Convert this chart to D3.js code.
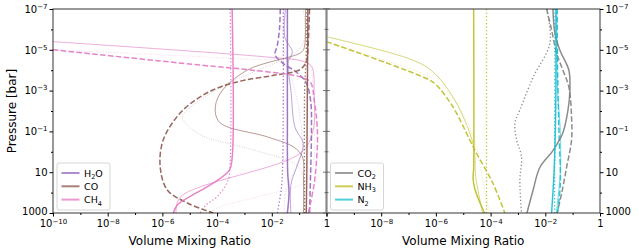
<!DOCTYPE html>
<html>
<head>
<meta charset="utf-8">
<script src="https://cdn.jsdelivr.net/npm/d3@7"></script>
<style>
  body { margin: 0; background: #fff; }
  svg { font-family: "DejaVu Sans", sans-serif; }
</style>
</head>
<body>
<svg id="chart" width="639" height="250"></svg>
<script>
// all profiles are [log10(VMR), log10(P/bar)]
const h2o = {
  solid:  [[-1.43,-7],[-1.43,-2],[-1.42,1],[-1.37,2],[-1.43,3]],
  dashed: [[-1.69,-7],[-1.72,-6],[-1.8,-5.2],[-1.88,-4.75],[-1.6,-4.35],[-1.1,-3.9],[-0.75,-3.4],[-0.58,-2.5],[-0.55,-1],[-0.58,1],[-0.62,3]],
  dotted: [[-1.58,-7],[-1.58,-3],[-1.6,0.5],[-1.65,1.8],[-1.8,3]],
  thin:   [[-1.5,-7],[-1.52,-5.6],[-1.25,-4.9],[-1.4,-4.4],[-1.3,-3],[-1.15,-1.2],[-0.85,-0.4],[-1.05,0.6],[-1.3,1.6],[-1.3,3]],
  faint:  [[-1.55,-7],[-1.55,-5],[-1.35,-4],[-1.0,-2],[-0.9,0],[-1.2,1],[-1.5,2],[-1.55,3]]
};
const co = {
  solid:  [[-0.68,-7],[-0.7,-3],[-0.72,1],[-0.74,3]],
  dashed: [[-0.62,-7],[-0.68,-5],[-0.72,-4.5],[-0.95,-4.05],[-1.87,-3.76],[-2.97,-3.52],[-3.88,-3.18],[-4.62,-2.69],[-5.35,-1.9],[-5.97,-0.58],[-6.08,0.75],[-5.82,1.87],[-5.09,2.51],[-4.14,3]],
  dotted: [[-0.72,-7],[-0.75,-4.5],[-0.8,-3],[-0.8,3]],
  thin:   [[-0.77,-7],[-0.8,-5.2],[-0.9,-4.9],[-2.89,-4.01],[-3.88,-2.88],[-4.07,-2.05],[-3.88,-1.41],[-2.16,-0.73],[-1.21,-0.24],[-0.88,0.25],[-0.84,1.5],[-0.84,3]],
  faint:  [[-0.85,-7],[-0.9,-5.2],[-2.67,-3.91],[-3.52,-3.42],[-5.09,-2.05],[-5.27,-1.71],[-4.73,-0.92],[-2.67,-0.09],[-1.21,0.55],[-0.88,1.04],[-0.84,3]]
};
const ch4 = {
  solid:  [[-3.45,-7],[-3.45,0.3],[-3.55,0.9],[-4.1,1.5],[-5.0,2.2],[-5.45,2.6],[-5.6,3]],
  dashed: [[-10,-5.0],[-4.62,-4.25],[-2.78,-4.01],[-0.95,-3.67],[-0.59,-3.42],[-0.45,-2.54],[-0.33,-0.92],[-0.4,1.0],[-0.48,1.8],[-0.66,3]],
  dotted: [[-3.52,-7],[-3.52,0.5],[-3.6,1.4],[-4.0,2.2],[-4.4,2.6],[-4.62,3]],
  thin:   [[-10,-5.4],[-2.2,-4.65],[-0.9,-4.45],[-0.55,-4.2],[-0.45,-2.8],[-0.5,-1.0],[-0.95,0.06],[-5.35,2.22],[-5.5,3]],
  faint:  [[-10,-5.0],[-3,-4.55],[-0.7,-4.35],[-0.5,-3.5],[-0.45,-1],[-0.5,0.8],[-0.8,1.5],[-2.5,2.2],[-3.9,2.7],[-4.3,3]]
};
const co2 = {
  solid:  [[-1.72,-7],[-1.65,-5.82],[-1.47,-4.99],[-1.14,-4.01],[-1.1,-3.03],[-1.17,-2.05],[-1.36,-0.92],[-1.72,-0.06],[-2.2,0.77],[-2.45,1.9],[-2.67,3]],
  dashed: [[-1.95,-7],[-1.77,-5.97],[-1.59,-4.84],[-1.36,-4.01],[-1.14,-3.18],[-1.04,-1.71],[-1.04,-0.58],[-1.22,0.75],[-1.4,2.02],[-1.57,3]],
  dotted: [[-1.95,-7],[-1.83,-5.33],[-2.44,-3.67],[-2.93,-2.05],[-3.11,-1.41],[-3.05,-0.58],[-2.87,0.25],[-2.93,1.38],[-2.87,3]]
};
const nh3 = {
  solid:  [[-4.62,-7],[-4.62,0.8],[-4.64,1.3],[-4.58,1.8],[-4.45,2.3],[-4.22,3]],
  dashed: [[-10,-5.4],[-6.23,-3.52],[-5.98,-3.27],[-5.38,-2.21],[-4.76,-0.58],[-4.52,0.06],[-3.92,1.53],[-3.48,3]],
  dotted: [[-4.15,-7],[-4.15,3]],
  thin:   [[-10,-5.64],[-6.85,-4.5],[-6.12,-3.93],[-5.38,-2.7],[-4.76,-0.92],[-4.58,0.06],[-4.55,1.14],[-4.29,3]],
  faint:  [[-10,-5.35],[-6.23,-3.68],[-5.62,-3.03],[-4.88,-1.56],[-4.52,-0.25],[-4.29,1.38],[-4.03,3]]
};
const n2 = {
  solid:  [[-1.61,-7],[-1.62,-2],[-1.68,1],[-1.77,3]],
  dashed: [[-1.57,-7],[-1.55,-4],[-1.5,-1],[-1.45,1.5],[-1.55,3]],
  dotted: [[-1.65,-7],[-1.66,3]],
  thin:   [[-1.58,-7],[-1.55,-3],[-1.45,-1],[-1.45,1],[-1.6,3]]
};

const leftSpecies = [
  {name: "H", sub: "2", tail: "O", color: "#9467bd", data: h2o},
  {name: "CO", sub: "", tail: "", color: "#8c564b", data: co},
  {name: "CH", sub: "4", tail: "", color: "#e377c2", data: ch4}
];
const rightSpecies = [
  {name: "CO", sub: "2", tail: "", color: "#7f7f7f", data: co2},
  {name: "NH", sub: "3", tail: "", color: "#bcbd22", data: nh3},
  {name: "N", sub: "2", tail: "", color: "#17becf", data: n2}
];

const xMajor = [1e-10, 1e-8, 1e-6, 1e-4, 1e-2, 1];
const xMinor = [1e-9, 1e-7, 1e-5, 1e-3, 1e-1];
const yMajor = [1e-7, 1e-5, 1e-3, 1e-1, 10, 1000];
const yMinor = [1e-6, 1e-4, 1e-2, 1, 100];

const styles = {
  solid:  {w: 1.5, dash: null, op: 0.9},
  dashed: {w: 1.5, dash: "5.5,2.4", op: 0.9},
  dotted: {w: 1.3, dash: "1.3,2.2", op: 0.9},
  thin:   {w: 0.8, dash: null, op: 0.75},
  faint:  {w: 0.8, dash: "0.8,1.6", op: 0.45}
};

const svg = d3.select("#chart");
const yTop = 9, yBot = 213;
const y = d3.scaleLog().domain([1e-7, 1000]).range([yTop, yBot]);

function label(sel, v, supDy) {
  // 10^n style labels like matplotlib
  const e = Math.round(Math.log10(v));
  sel.text(null);
  if (e === 0) sel.text("1");
  else if (e === 1) sel.text("10");
  else if (e === 3) sel.text("1000");
  else {
    sel.append("tspan").text("10");
    sel.append("tspan").attr("dy", supDy).attr("font-size", 7).text("\u2212" + Math.abs(e));
  }
}

function panel(x0, x1, species, side, idx) {
  const x = d3.scaleLog().domain([1e-10, 1]).range([x0, x1]);
  const g = svg.append("g");

  g.append("clipPath").attr("id", "clip" + idx)
    .append("rect").attr("x", x0).attr("y", yTop).attr("width", x1 - x0).attr("height", yBot - yTop);

  const line = d3.line()
    .x(d => x(Math.pow(10, d[0])))
    .y(d => y(Math.pow(10, d[1])))
    .curve(d3.curveCatmullRom.alpha(0.5));

  const plot = g.append("g").attr("clip-path", "url(#clip" + idx + ")");
  ["faint", "thin", "dotted", "dashed", "solid"].forEach(function(k) {
    species.forEach(function(s) {
      if (!s.data[k]) return;
      const st = styles[k];
      plot.append("path")
        .attr("d", line(s.data[k]))
        .attr("fill", "none")
        .attr("stroke", s.color)
        .attr("stroke-width", st.w)
        .attr("stroke-opacity", st.op)
        .attr("stroke-dasharray", st.dash);
    });
  });

  // frame
  g.append("rect").attr("x", x0).attr("y", yTop).attr("width", x1 - x0).attr("height", yBot - yTop)
    .attr("fill", "none").attr("stroke", "#000").attr("stroke-width", 0.8);

  // x axis
  const xa = g.append("g").attr("transform", "translate(0," + yBot + ")")
    .call(d3.axisBottom(x).tickValues(xMajor).tickSize(3.5).tickPadding(3));
  xa.select(".domain").remove();
  xa.selectAll(".tick text").attr("font-size", 10).attr("font-family", "DejaVu Sans")
    .each(function(d) { label(d3.select(this), d, -3); });
  if (idx === 1) xa.selectAll(".tick text").filter(d => d === 1e-10).remove();
  const xm = g.append("g").attr("transform", "translate(0," + yBot + ")")
    .call(d3.axisBottom(x).tickValues(xMinor).tickSize(2).tickFormat(""));
  xm.select(".domain").remove();

  // y axis
  const yx = side === "left" ? x0 : x1;
  const ax = side === "left" ? d3.axisLeft : d3.axisRight;
  const ya = g.append("g").attr("transform", "translate(" + yx + ",0)")
    .call(ax(y).tickValues(yMajor).tickSize(3.5).tickPadding(2));
  ya.select(".domain").remove();
  ya.selectAll(".tick text").attr("font-size", 10).attr("font-family", "DejaVu Sans")
    .each(function(d) { label(d3.select(this), d, -4); });
  // nudge the bottom label so it clears the x tick labels
  ya.selectAll(".tick text").filter(d => d === 1000).attr("y", -2);
  const ym = g.append("g").attr("transform", "translate(" + yx + ",0)")
    .call(ax(y).tickValues(yMinor).tickSize(2).tickFormat(""));
  ym.select(".domain").remove();

  g.append("text")
    .attr("x", (x0 + x1) / 2).attr("y", 245)
    .attr("text-anchor", "middle").attr("font-size", 12)
    .text("Volume Mixing Ratio");

  // legend
  const lx = x0 + 4, ly = 163;
  const lg = g.append("g");
  lg.append("rect").attr("x", lx).attr("y", ly).attr("width", 53).attr("height", 47)
    .attr("rx", 2).attr("fill", "#fff").attr("fill-opacity", 0.85)
    .attr("stroke", "#ccc").attr("stroke-width", 0.8);
  species.forEach(function(s, i) {
    const yy = ly + 10 + i * 13.3;
    lg.append("line").attr("x1", lx + 4.5).attr("x2", lx + 22.5).attr("y1", yy).attr("y2", yy)
      .attr("stroke", s.color).attr("stroke-width", 2).attr("stroke-opacity", 0.75);
    const t = lg.append("text").attr("x", lx + 27).attr("y", yy + 3.5).attr("font-size", 9.5);
    t.append("tspan").text(s.name);
    if (s.sub) t.append("tspan").attr("font-size", 6.5).attr("dy", 2.5).text(s.sub);
    if (s.tail) t.append("tspan").attr("dy", -2.5).text(s.tail);
  });
  return x;
}

panel(53, 326.5, leftSpecies, "left", 0);
panel(326.5, 600, rightSpecies, "right", 1);

// shared border between the panels, drawn grey and heavier as in the figure
svg.append("line").attr("x1", 326.5).attr("x2", 326.5).attr("y1", yTop).attr("y2", yBot)
  .attr("stroke", "#888").attr("stroke-width", 2.2);
[1e-7, 1e-6, 1e-5, 1e-4, 1e-3, 1e-2, 1e-1, 1, 10, 100, 1000].forEach(function(v) {
  const len = yMajor.includes(v) ? 3.5 : 2;
  svg.append("line").attr("x1", 326.5 - len).attr("x2", 326.5 + len)
    .attr("y1", y(v)).attr("y2", y(v)).attr("stroke", "#555").attr("stroke-width", 0.8);
});

svg.append("text")
  .attr("transform", "translate(16,111) rotate(-90)")
  .attr("text-anchor", "middle").attr("font-size", 12)
  .text("Pressure [bar]");
</script>
</body>
</html>
